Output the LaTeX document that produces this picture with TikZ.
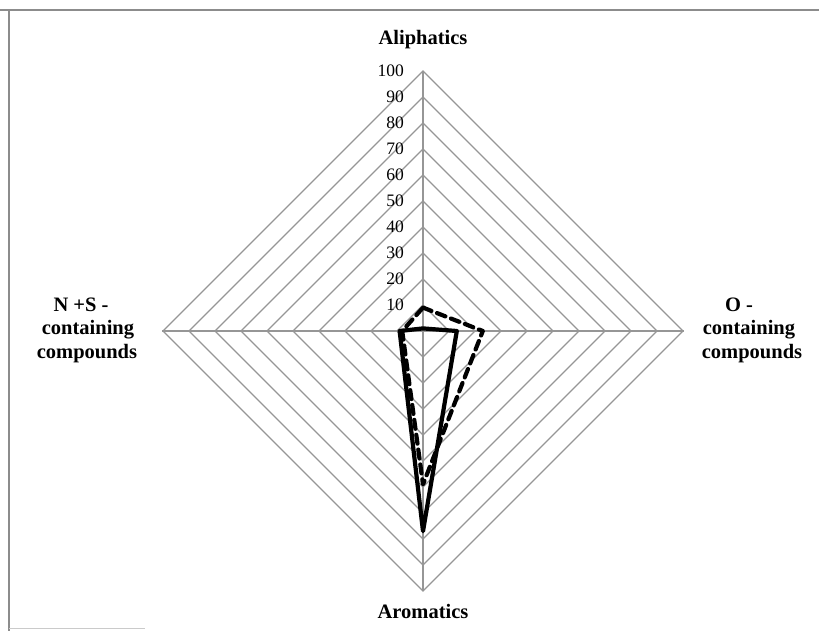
\documentclass[tikz,border=0pt]{standalone}
\usepackage{fontspec}
\setmainfont{Liberation Serif}
\definecolor{gridgray}{RGB}{150,150,150}
\definecolor{framegray}{RGB}{140,140,140}
\begin{document}
\begin{tikzpicture}[x=1pt,y=-1pt,
  gridline/.style={draw=gridgray,line width=1.3pt},
  axislabel/.style={font=\fontsize{20.5}{24}\selectfont\bfseries,inner sep=0pt},
  ticklabel/.style={font=\fontsize{17.5}{20}\selectfont,anchor=east,inner sep=0pt},
  series/.style={line width=4.2pt,line join=round,line cap=round},
  dashseries/.style={series,dash pattern=on 9pt off 6pt}]
\useasboundingbox (0,0) rectangle (819,631);
% frame
\draw[framegray,line width=2pt] (0,10) -- (819,10);
\draw[framegray,line width=2pt] (9,10) -- (9,631);
\draw[gridgray!50,line width=0.8pt] (9,628) -- (145,628);
% grid
\coordinate (O) at (423,331);
\foreach \k in {1,...,10}{
  \draw[gridline] (423,331-26*\k) -- (423+26*\k,331) -- (423,331+26*\k) -- (423-26*\k,331) -- cycle;
}
\coordinate (Atop) at (423,71);
\coordinate (Abot) at (423,591);
\coordinate (Aleft) at (162,331);
\coordinate (Aright) at (684,331);
\draw[gridline] (Atop) -- (Abot);
\draw[gridline] (Aleft) -- (Aright);
% tick labels
\foreach \k in {10,20,...,100}{
  \node[ticklabel] (t\k) at (404,331-2.6*\k) {\k};
}
% axis labels
\node[axislabel] (ali) at (423,40) {Aliphatics};
\node[axislabel] (aro) at (423,611) {Aromatics};
\node[axislabel] (ns1) at (81,305) {N +S -};
\node[axislabel] (ns2) at (88,330) {containing};
\node[axislabel] (ns3) at (87,354) {compounds};
\node[axislabel] (o1) at (739,305) {O -};
\node[axislabel] (o2) at (749,330) {containing};
\node[axislabel] (o3) at (752,354) {compounds};
% data
\coordinate (s1) at (423,328.4);
\coordinate (s2) at (456.8,331);
\coordinate (s3) at (423,531.2);
\coordinate (s4) at (399.6,331);
\draw[series] (s1) -- (s2) -- (s3) -- (s4) -- cycle;
\coordinate (d1) at (423,307.6);
\coordinate (d2) at (482.8,331);
\coordinate (d3) at (423,484.4);
\coordinate (d4) at (402.2,331);
\draw[dashseries] (d1) -- (d2) -- (d3) -- (d4) -- cycle;
\end{tikzpicture}
\end{document}
